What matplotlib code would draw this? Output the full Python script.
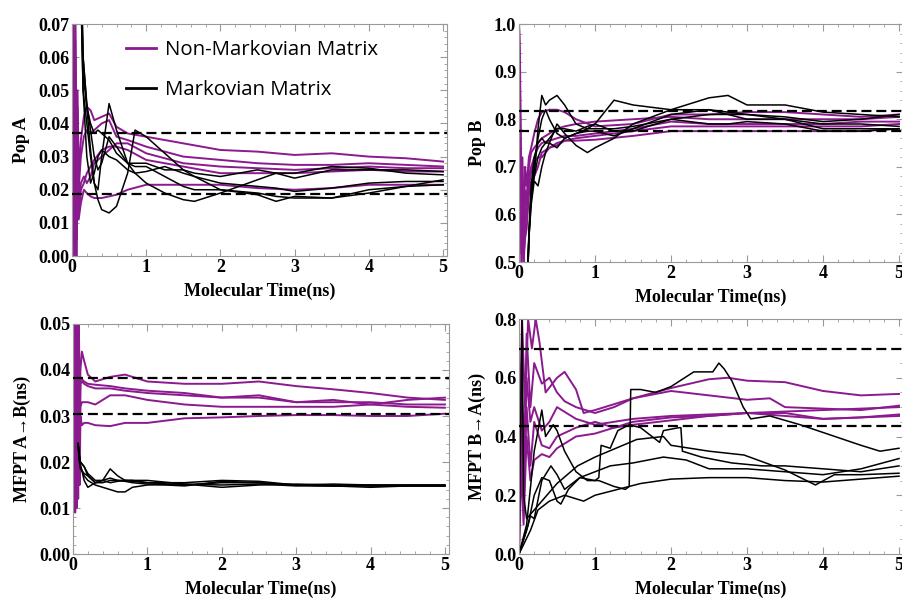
import numpy as np
import matplotlib.pyplot as plt
from matplotlib.ticker import MultipleLocator

purple = '#8b1a8e'
serif = ['Liberation Serif', 'DejaVu Serif']

# ---------------- Pop A ----------------
pa_t = [0, 0.015, 0.03, 0.045, 0.06, 0.075, 0.09, 0.12, 0.16, 0.2, 0.25, 0.3, 0.4, 0.5,
        0.6, 0.75, 1.0, 1.5, 2.0, 2.5, 3.0, 3.5, 4.0, 4.5, 5.0]
pa1 = [0.0, 0.07, 0.02, 0.065, 0.03, 0.05, 0.025, 0.035, 0.042, 0.045, 0.044, 0.041, 0.042, 0.043,
       0.039, 0.037, 0.036, 0.034, 0.032, 0.0315, 0.0305, 0.031, 0.030, 0.0295, 0.0285]
pa2 = [0.0, 0.06, 0.0, 0.07, 0.015, 0.045, 0.02, 0.03, 0.036, 0.038, 0.037, 0.038, 0.040, 0.041,
       0.036, 0.035, 0.033, 0.030, 0.029, 0.028, 0.0275, 0.0275, 0.028, 0.0275, 0.027]
pa3 = [0.0, 0.05, 0.01, 0.07, 0.0, 0.04, 0.015, 0.022, 0.024, 0.022, 0.024, 0.028, 0.030, 0.032,
       0.034, 0.034, 0.031, 0.028, 0.027, 0.0265, 0.026, 0.0265, 0.027, 0.0265, 0.0265]
pa4 = [0.0, 0.07, 0.005, 0.055, 0.01, 0.035, 0.012, 0.02, 0.022, 0.025, 0.027, 0.029, 0.032, 0.033,
       0.033, 0.032, 0.029, 0.027, 0.025, 0.025, 0.025, 0.0255, 0.026, 0.0255, 0.0255]
pa5 = [0.0, 0.065, 0.0, 0.06, 0.005, 0.03, 0.011, 0.016, 0.02, 0.019, 0.018, 0.0175, 0.0175, 0.018,
       0.0185, 0.020, 0.0215, 0.0215, 0.0215, 0.0205, 0.020, 0.0205, 0.0215, 0.0215, 0.0215]

ka_t = [0.08, 0.1, 0.12, 0.15, 0.2, 0.25, 0.3, 0.35, 0.4, 0.5, 0.6, 0.75, 0.85, 1.0, 1.25, 1.5,
        1.65, 2.0, 2.5, 2.75, 3.0, 3.5, 4.0, 4.5, 5.0]
ka1 = [0.12, 0.10, 0.08, 0.05, 0.04, 0.030, 0.022, 0.017, 0.014, 0.013, 0.015, 0.025, 0.038, 0.036,
       0.031, 0.026, 0.024, 0.020, 0.0185, 0.0165, 0.018, 0.0175, 0.020, 0.021, 0.0215]
ka2 = [0.12, 0.1, 0.09, 0.06, 0.045, 0.032, 0.022, 0.02, 0.03, 0.046, 0.038, 0.028, 0.025, 0.022,
       0.019, 0.017, 0.0165, 0.019, 0.023, 0.025, 0.025, 0.027, 0.0265, 0.025, 0.0245]
ka3 = [0.12, 0.1, 0.09, 0.06, 0.046, 0.038, 0.03, 0.026, 0.028, 0.036, 0.033, 0.028, 0.027, 0.027,
       0.024, 0.021, 0.020, 0.020, 0.019, 0.018, 0.0175, 0.0175, 0.019, 0.021, 0.023]
ka4 = [0.12, 0.1, 0.085, 0.055, 0.045, 0.04, 0.037, 0.038, 0.037, 0.035, 0.031, 0.028, 0.028, 0.028,
       0.026, 0.026, 0.025, 0.024, 0.026, 0.025, 0.0235, 0.026, 0.026, 0.026, 0.0255]
ka5 = [0.12, 0.1, 0.08, 0.05, 0.03, 0.022, 0.025, 0.03, 0.032, 0.030, 0.029, 0.026, 0.025, 0.0255,
       0.027, 0.025, 0.024, 0.022, 0.021, 0.0205, 0.0195, 0.0205, 0.022, 0.0225, 0.0225]
ref_a = [0.0372, 0.0187]

# ---------------- Pop B ----------------
pb_t = [0, 0.015, 0.03, 0.045, 0.06, 0.08, 0.1, 0.13, 0.16, 0.2, 0.25, 0.3, 0.4, 0.5, 0.6, 0.75,
        1.0, 1.5, 2.0, 2.5, 3.0, 3.5, 4.0, 4.5, 5.0]
pb1 = [1.0, 0.8, 0.6, 0.72, 0.55, 0.7, 0.66, 0.72, 0.74, 0.77, 0.80, 0.815, 0.82, 0.82, 0.815, 0.80,
       0.785, 0.79, 0.81, 0.81, 0.815, 0.815, 0.81, 0.805, 0.81]
pb2 = [1.0, 0.75, 0.5, 0.7, 0.52, 0.65, 0.62, 0.70, 0.73, 0.74, 0.75, 0.76, 0.77, 0.78, 0.785, 0.79,
       0.795, 0.80, 0.805, 0.80, 0.80, 0.80, 0.80, 0.80, 0.805]
pb3 = [1.0, 0.7, 0.52, 0.65, 0.5, 0.6, 0.64, 0.68, 0.70, 0.72, 0.74, 0.75, 0.755, 0.76, 0.765, 0.765,
       0.77, 0.78, 0.795, 0.79, 0.79, 0.79, 0.79, 0.795, 0.795]
pb4 = [1.0, 0.85, 0.55, 0.6, 0.5, 0.58, 0.6, 0.66, 0.69, 0.71, 0.72, 0.72, 0.74, 0.75, 0.755, 0.76,
       0.765, 0.775, 0.785, 0.785, 0.785, 0.785, 0.785, 0.785, 0.79]
pb5 = [1.0, 0.9, 0.6, 0.55, 0.5, 0.55, 0.57, 0.64, 0.67, 0.68, 0.70, 0.73, 0.74, 0.745, 0.755, 0.755,
       0.757, 0.765, 0.775, 0.775, 0.775, 0.775, 0.775, 0.775, 0.78]

kb_t = [0.1, 0.13, 0.16, 0.2, 0.25, 0.3, 0.35, 0.4, 0.5, 0.6, 0.75, 0.9, 1.0, 1.25, 1.5, 2.0, 2.5,
        2.75, 3.0, 3.5, 4.0, 4.5, 5.0]
kb1 = [0.4, 0.55, 0.65, 0.68, 0.78, 0.85, 0.83, 0.84, 0.85, 0.83, 0.79, 0.78, 0.79, 0.84, 0.83, 0.82,
       0.845, 0.85, 0.83, 0.83, 0.815, 0.81, 0.805]
kb2 = [0.4, 0.55, 0.62, 0.67, 0.66, 0.70, 0.73, 0.75, 0.79, 0.77, 0.745, 0.73, 0.74, 0.76, 0.79, 0.82,
       0.82, 0.81, 0.80, 0.80, 0.79, 0.79, 0.785]
kb3 = [0.4, 0.56, 0.64, 0.70, 0.76, 0.80, 0.82, 0.80, 0.77, 0.76, 0.77, 0.78, 0.78, 0.78, 0.785, 0.80,
       0.81, 0.81, 0.81, 0.80, 0.78, 0.78, 0.78]
kb4 = [0.4, 0.56, 0.66, 0.72, 0.75, 0.76, 0.75, 0.75, 0.74, 0.76, 0.77, 0.775, 0.775, 0.765, 0.78, 0.81,
       0.82, 0.815, 0.81, 0.805, 0.795, 0.80, 0.81]
kb5 = [0.4, 0.55, 0.63, 0.68, 0.72, 0.74, 0.75, 0.76, 0.78, 0.78, 0.775, 0.785, 0.79, 0.775, 0.775, 0.80,
       0.79, 0.79, 0.795, 0.79, 0.775, 0.775, 0.78]
ref_b = [0.818, 0.775]

# ---------------- MFPT A->B ----------------
pc_t = [0, 0.01, 0.02, 0.03, 0.04, 0.05, 0.06, 0.07, 0.08, 0.09, 0.1, 0.12, 0.15, 0.2, 0.3, 0.5,
        0.7, 1.0, 1.5, 2.0, 2.5, 3.0, 3.5, 4.0, 4.5, 5.0]
pc1 = [0.05, 0.02, 0.05, 0.015, 0.05, 0.02, 0.045, 0.025, 0.05, 0.03, 0.04, 0.044, 0.042, 0.039,
       0.0375, 0.0385, 0.039, 0.0375, 0.037, 0.037, 0.0375, 0.0365, 0.0358, 0.035, 0.034, 0.0335]
pc2 = [0.05, 0.012, 0.045, 0.01, 0.05, 0.015, 0.04, 0.02, 0.045, 0.025, 0.038, 0.038, 0.0375, 0.037,
       0.0368, 0.0365, 0.036, 0.0355, 0.035, 0.034, 0.034, 0.033, 0.033, 0.033, 0.0325, 0.0325]
pc3 = [0.05, 0.03, 0.05, 0.009, 0.045, 0.012, 0.05, 0.018, 0.04, 0.022, 0.037, 0.0375, 0.037, 0.0365,
       0.036, 0.036, 0.0355, 0.035, 0.0345, 0.034, 0.0345, 0.033, 0.0335, 0.0325, 0.032, 0.0318]
pc4 = [0.05, 0.025, 0.05, 0.02, 0.048, 0.011, 0.05, 0.015, 0.05, 0.02, 0.032, 0.033, 0.033, 0.033,
       0.0325, 0.0345, 0.0345, 0.0335, 0.0325, 0.032, 0.032, 0.032, 0.032, 0.0325, 0.0335, 0.034]
pc5 = [0.05, 0.015, 0.05, 0.012, 0.05, 0.01, 0.045, 0.012, 0.05, 0.015, 0.030, 0.028, 0.0285, 0.0285,
       0.028, 0.0278, 0.0285, 0.0285, 0.0295, 0.0297, 0.030, 0.0302, 0.0302, 0.030, 0.030, 0.0305]

kc_t = [0.07, 0.08, 0.1, 0.15, 0.2, 0.3, 0.4, 0.5, 0.6, 0.7, 0.8, 1.0, 1.5, 2.0, 2.5, 3.0, 3.5,
        4.0, 4.5, 5.0]
kc1 = [0.024, 0.022, 0.020, 0.019, 0.017, 0.0155, 0.016, 0.0185, 0.017, 0.016, 0.016, 0.0155, 0.015,
       0.0155, 0.0155, 0.015, 0.0152, 0.015, 0.015, 0.015]
kc2 = [0.024, 0.022, 0.0195, 0.016, 0.0145, 0.0155, 0.016, 0.0165, 0.016, 0.0158, 0.0155, 0.0152,
       0.0148, 0.0158, 0.0155, 0.015, 0.0148, 0.0148, 0.0148, 0.0148]
kc3 = [0.024, 0.021, 0.019, 0.017, 0.016, 0.015, 0.0145, 0.014, 0.0135, 0.0135, 0.0145, 0.015, 0.0152,
       0.015, 0.0152, 0.0148, 0.0148, 0.015, 0.015, 0.015]
kc4 = [0.024, 0.021, 0.0185, 0.0175, 0.017, 0.0155, 0.0155, 0.016, 0.016, 0.016, 0.016, 0.016, 0.0152,
       0.0145, 0.015, 0.0152, 0.015, 0.0148, 0.0148, 0.0148]
kc5 = [0.024, 0.022, 0.020, 0.019, 0.0175, 0.016, 0.016, 0.0155, 0.0158, 0.016, 0.0158, 0.0155, 0.0155,
       0.016, 0.0158, 0.015, 0.0148, 0.0145, 0.0148, 0.0148]
ref_c = [0.0382, 0.0304]

# ---------------- MFPT B->A ----------------
pd1_t = [0, 0.04, 0.08, 0.12, 0.17, 0.22, 0.27, 0.35, 0.5, 0.6, 0.75, 0.85, 1.0, 1.5, 2.0, 2.5,
         2.75, 3.0, 3.5, 4.0, 4.5, 5.0]
pd1 = [0.3, 0.8, 0.5, 0.8, 0.7, 0.8, 0.72, 0.55, 0.6, 0.62, 0.56, 0.48, 0.49, 0.53, 0.565, 0.595,
       0.60, 0.59, 0.585, 0.555, 0.54, 0.545]
pd2_t = [0, 0.03, 0.07, 0.1, 0.15, 0.2, 0.3, 0.4, 0.5, 0.6, 0.75, 1.0, 1.25, 1.5, 2.0, 2.5, 3.0,
         3.3, 3.5, 4.0, 4.5, 5.0]
pd2 = [0.1, 0.6, 0.35, 0.75, 0.5, 0.65, 0.58, 0.60, 0.55, 0.52, 0.50, 0.48, 0.50, 0.53, 0.555, 0.54,
       0.525, 0.53, 0.50, 0.495, 0.49, 0.505]
pd_t = [0, 0.03, 0.06, 0.1, 0.15, 0.2, 0.3, 0.4, 0.5, 0.75, 1.0, 1.25, 1.5, 2.0, 2.5, 3.0, 3.5,
        4.0, 4.5, 5.0]
pd3 = [0.05, 0.5, 0.2, 0.6, 0.45, 0.5, 0.42, 0.45, 0.50, 0.46, 0.44, 0.45, 0.46, 0.47, 0.475, 0.48,
       0.485, 0.49, 0.495, 0.50]
pd4 = [0.0, 0.4, 0.15, 0.5, 0.3, 0.45, 0.37, 0.36, 0.40, 0.43, 0.45, 0.43, 0.45, 0.465, 0.47, 0.48,
       0.48, 0.46, 0.465, 0.47]
pd5 = [0.0, 0.3, 0.1, 0.4, 0.25, 0.32, 0.34, 0.33, 0.36, 0.40, 0.41, 0.43, 0.44, 0.455, 0.47, 0.48,
       0.47, 0.46, 0.465, 0.475]

kd1_t = [0, 0.1, 0.2, 0.3, 0.35, 0.45, 0.5, 0.6, 0.75, 0.9, 1.05, 1.25, 1.4, 1.45, 1.47, 1.6, 1.8,
         2.0, 2.3, 2.55, 2.63, 2.7, 2.8, 2.95, 3.05, 3.3, 3.7, 4.1, 4.5, 4.75, 5.0]
kd1 = [0.0, 0.1, 0.35, 0.49, 0.40, 0.44, 0.42, 0.35, 0.28, 0.25, 0.25, 0.23, 0.22, 0.23, 0.56, 0.56,
       0.55, 0.57, 0.62, 0.62, 0.65, 0.63, 0.59, 0.50, 0.46, 0.47, 0.44, 0.405, 0.37, 0.35, 0.36]
kd2_t = [0, 0.1, 0.15, 0.2, 0.3, 0.42, 0.5, 0.6, 0.8, 1.0, 1.05, 1.08, 1.2, 1.3, 1.45, 1.6, 1.75,
         1.85, 1.9, 2.1, 2.13, 2.15, 2.4, 2.8, 3.2, 3.5, 4.0, 4.5, 5.0]
kd2 = [0.0, 0.08, 0.13, 0.12, 0.25, 0.30, 0.27, 0.22, 0.26, 0.25, 0.26, 0.37, 0.36, 0.42, 0.44, 0.43,
       0.40, 0.38, 0.42, 0.43, 0.43, 0.35, 0.33, 0.31, 0.30, 0.30, 0.29, 0.28, 0.30]
kd3_t = [0, 0.12, 0.2, 0.3, 0.4, 0.5, 0.55, 0.65, 0.8, 1.0, 1.2, 1.5, 1.9, 2.2, 2.5, 3.0, 3.5, 4.0,
         4.5, 5.0]
kd3 = [0.0, 0.1, 0.20, 0.26, 0.25, 0.18, 0.17, 0.22, 0.26, 0.28, 0.30, 0.31, 0.33, 0.32, 0.29, 0.29,
       0.28, 0.27, 0.29, 0.325]
kd4_t = [0, 0.15, 0.25, 0.4, 0.6, 0.85, 1.0, 1.3, 1.6, 2.0, 2.5, 3.0, 3.5, 4.0, 4.5, 5.0]
kd4 = [0.0, 0.08, 0.15, 0.18, 0.20, 0.18, 0.20, 0.22, 0.24, 0.255, 0.26, 0.26, 0.25, 0.245, 0.255, 0.265]
kd5_t = [0, 0.02, 0.04, 0.06, 0.1, 0.3, 0.5, 0.77, 1.0, 1.55, 1.9, 2.0, 2.5, 2.96, 3.5, 3.9, 4.15,
         4.5, 5.0]
kd5 = [0.0, 0.4, 0.8, 0.2, 0.12, 0.18, 0.24, 0.30, 0.33, 0.39, 0.40, 0.37, 0.35, 0.337, 0.286, 0.235,
       0.27, 0.27, 0.275]
ref_d = [0.697, 0.436]

fig = plt.figure(figsize=(9.02, 6.01), dpi=100)
ax_a = fig.add_axes([0.0798, 0.574, 0.4155, 0.386])
ax_b = fig.add_axes([0.5754, 0.564, 0.4255, 0.396])
ax_c = fig.add_axes([0.0809, 0.0782, 0.4165, 0.3827])
ax_d = fig.add_axes([0.5754, 0.0782, 0.4255, 0.391])

lw_p = 1.4
lw_k = 1.1
for y in [pa1, pa2, pa3, pa4, pa5]:
    ax_a.plot(pa_t, y, color=purple, lw=lw_p)
for y in [ka1, ka2, ka3, ka4, ka5]:
    ax_a.plot(ka_t, y, color='black', lw=lw_k)

for y in [pb1, pb2, pb3, pb4, pb5]:
    ax_b.plot(pb_t, y, color=purple, lw=lw_p)
for y in [kb1, kb2, kb3, kb4, kb5]:
    ax_b.plot(kb_t, y, color='black', lw=lw_k)

for y in [pc1, pc2, pc3, pc4, pc5]:
    ax_c.plot(pc_t, y, color=purple, lw=lw_p)
for y in [kc1, kc2, kc3, kc4, kc5]:
    ax_c.plot(kc_t, y, color='black', lw=lw_k)

ax_d.plot(pd1_t, pd1, color=purple, lw=lw_p)
ax_d.plot(pd2_t, pd2, color=purple, lw=lw_p)
for y in [pd3, pd4, pd5]:
    ax_d.plot(pd_t, y, color=purple, lw=lw_p)
for t, y in [(kd1_t, kd1), (kd2_t, kd2), (kd3_t, kd3), (kd4_t, kd4), (kd5_t, kd5)]:
    ax_d.plot(t, y, color='black', lw=lw_k)

setup = [
    (ax_a, ref_a, (0, 0.07), 0.01, 0.002, 'Pop A', '%.2f'),
    (ax_b, ref_b, (0.5, 1.0), 0.1, 0.02, 'Pop B', '%.1f'),
    (ax_c, ref_c, (0, 0.05), 0.01, 0.002, 'MFPT A\u2192B(ns)', '%.2f'),
    (ax_d, ref_d, (0, 0.8), 0.2, 0.05, 'MFPT B\u2192A(ns)', '%.1f'),
]
for ax, refs, ylim, major, minor, ylab, fmt in setup:
    for r in refs:
        ax.axhline(r, color='black', lw=1.6, dashes=(4.5, 2.2), zorder=3)
    ax.set_xlim(0, 5.05)
    ax.set_ylim(*ylim)
    ax.xaxis.set_major_locator(MultipleLocator(1))
    ax.xaxis.set_minor_locator(MultipleLocator(0.2))
    ax.yaxis.set_major_locator(MultipleLocator(major))
    ax.yaxis.set_minor_locator(MultipleLocator(minor))
    ax.yaxis.set_major_formatter(plt.FormatStrFormatter(fmt))
    ax.tick_params(which='both', direction='in', top=True, right=True, color='#999999')
    ax.tick_params(which='major', length=5, width=0.8, pad=2)
    ax.tick_params(which='minor', length=2.5, width=0.6)
    for lab in ax.get_xticklabels() + ax.get_yticklabels():
        lab.set_fontfamily(serif)
        lab.set_fontweight('bold')
        lab.set_fontsize(13)
    for s in ax.spines.values():
        s.set_color('#999999')
        s.set_linewidth(0.8)
    ax.set_xlabel('Molecular Time(ns)', family=serif, fontweight='bold', fontsize=13, labelpad=5)
    ax.set_ylabel(ylab, family=serif, fontweight='bold', fontsize=13, labelpad=6)

h1, = ax_a.plot([], [], color=purple, lw=2, label='Non-Markovian Matrix')
h2, = ax_a.plot([], [], color='black', lw=2, label='Markovian Matrix')
ax_a.legend(handles=[h1, h2], loc='upper left', bbox_to_anchor=(0.145, 0.93), frameon=False,
            prop={'family': 'Open Sans', 'size': 14.7}, handlelength=1.45, handletextpad=0.45,
            labelspacing=0.95, borderpad=0, borderaxespad=0)

fig.savefig('out.png', dpi=100)
